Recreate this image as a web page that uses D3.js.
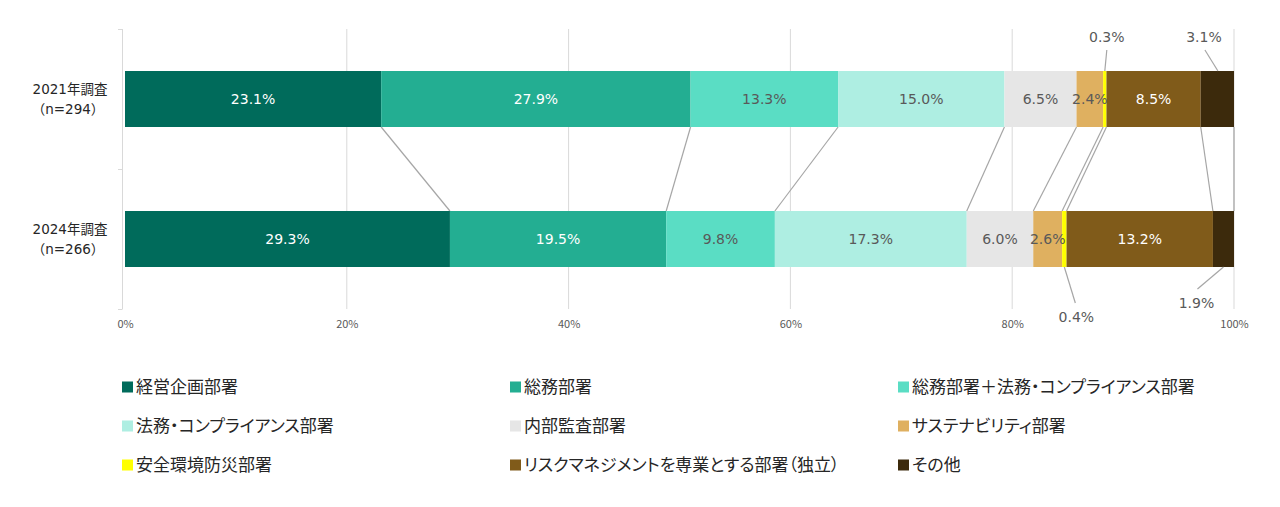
<!DOCTYPE html>
<html><head><meta charset="utf-8">
<script src="https://cdn.jsdelivr.net/npm/d3@7"></script>
<style>
html,body{margin:0;padding:0;background:#fff;}
svg{display:block;font-family:"Noto Sans CJK JP","Noto Sans",sans-serif;}
.num{font-family:"DejaVu Sans","Noto Sans CJK JP",sans-serif;}
.leg{font-feature-settings:"palt";}
</style></head>
<body>
<svg id="chart" width="1280" height="507"></svg>
<script>
const categories = ["2021年調査", "2024年調査"];
const sampleSizes = ["（n=294）", "（n=266）"];
const seriesNames = ["経営企画部署","総務部署","総務部署＋法務・コンプライアンス部署","法務・コンプライアンス部署","内部監査部署","サステナビリティ部署","安全環境防災部署","リスクマネジメントを専業とする部署（独立）","その他"];
const values2021 = [23.1, 27.9, 13.3, 15.0, 6.5, 2.4, 0.3, 8.5, 3.1];
const values2024 = [29.3, 19.5, 9.8, 17.3, 6.0, 2.6, 0.4, 13.2, 1.9];
const colors = ["#006B5B","#23AE92","#5ADDC4","#AEEEE2","#E6E6E6","#DFB060","#FFFF00","#805B1A","#3C2A0C"];
const labelColors = ["#fff","#fff","#595959","#595959","#595959","#595959","#595959","#fff","#595959"];
const tickValues = [0, 20, 40, 60, 80, 100];
// labels drawn outside with leader lines: [yearIndex, seriesIndex, side]
const calloutSeries = [[0,6,"top"],[0,8,"top"],[1,6,"bottom"],[1,8,"bottom"]];

const svg = d3.select("#chart");
const x = d3.scaleLinear().domain([0,100]).range([125,1234]).clamp(true);
const y = d3.scaleBand().domain(categories).range([29,309]).paddingInner(0.6).paddingOuter(0.3);
const allValues = [values2021, values2024];

// gridlines
svg.append("g").selectAll("line").data(tickValues.slice(1)).join("line")
  .attr("x1", d=>x(d)).attr("x2", d=>x(d)).attr("y1", 29).attr("y2", 309)
  .attr("stroke", "#D9D9D9").attr("stroke-width", 1);

// y axis line with ticks
const yAxisG = svg.append("g");
yAxisG.append("line").attr("x1",122.5).attr("x2",122.5).attr("y1",29).attr("y2",309).attr("stroke","#D9D9D9");
[29,169,309].forEach(t=>yAxisG.append("line").attr("x1",118).attr("x2",122.5).attr("y1",t+0.5).attr("y2",t+0.5).attr("stroke","#D9D9D9"));

// x axis labels
const xAxis = d3.axisBottom(x).tickValues(tickValues).tickFormat(d=>d+"%").tickSize(0).tickPadding(0);
const xg = svg.append("g").attr("transform","translate(0,320)").call(xAxis);
xg.select(".domain").remove();
xg.selectAll("text").attr("fill","#595959").attr("font-size","11px").attr("dy","0.71em")
  .attr("font-family","'Noto Sans CJK JP',sans-serif");

// stacked data
const stacks = allValues.map(vals=>{
  let c=0; return vals.map((v,i)=>{const s=c; c+=v; return {i, v, s, e:c};});
});

// connector lines between bars
const b0 = y(categories[0]) + y.bandwidth();
const t1 = y(categories[1]);
svg.append("g").selectAll("line").data(stacks[0].map((d,i)=>({a:d.e, b:stacks[1][i].e})))
  .join("line")
  .attr("x1", d=>x(d.a)).attr("y1", b0).attr("x2", d=>x(d.b)).attr("y2", t1)
  .attr("stroke","#A6A6A6").attr("stroke-width",1.2);

// bars
categories.forEach((cat,ci)=>{
  const g = svg.append("g");
  g.selectAll("rect").data(stacks[ci]).join("rect")
    .attr("x", d=>x(d.s)).attr("width", d=>Math.max(0, x(d.e)-x(d.s)))
    .attr("y", y(cat)).attr("height", y.bandwidth())
    .attr("fill", (d)=>colors[d.i]);
  const inside = stacks[ci].filter(d=>!calloutSeries.some(c=>c[0]===ci && c[1]===d.i));
  g.selectAll("text").data(inside).join("text").attr("class","num")
    .attr("x", d=>x((d.s+d.e)/2)).attr("y", y(cat)+y.bandwidth()/2)
    .attr("dy","0.36em").attr("text-anchor","middle")
    .attr("font-size","14px").attr("fill", d=>labelColors[d.i])
    .text(d=>d.v.toFixed(1)+"%");
});

// callouts
calloutSeries.forEach(([ci,si,side])=>{
  const d = stacks[ci][si];
  const cx = x((d.s+d.e)/2);
  const barTop = y(categories[ci]), barBot = barTop + y.bandwidth();
  let lx, ly, ax, ay, ex, ey;
  if (side==="top") {
    lx = si===6 ? cx+2 : cx-14; ly = 37;
    ax = si===6 ? lx : lx+1; ay = 50;
    ex = cx; ey = barTop;
  } else {
    lx = si===6 ? cx+12 : cx-27; ly = si===6 ? 317 : 303;
    ax = si===6 ? lx-1 : lx+1; ay = ly-14;
    ex = cx; ey = barBot;
  }
  svg.append("line").attr("x1",ax).attr("y1",ay).attr("x2",ex).attr("y2",ey)
    .attr("stroke","#A6A6A6").attr("stroke-width",1.2);
  svg.append("text").attr("class","num").attr("x",lx).attr("y",ly).attr("dy","0.36em").attr("text-anchor","middle")
    .attr("font-size","14px").attr("fill","#595959").text(d.v.toFixed(1)+"%");
});

// category labels
categories.forEach((cat,ci)=>{
  const cy = y(cat)+y.bandwidth()/2;
  const t = svg.append("text").attr("class","num").attr("text-anchor","middle").attr("font-size","13.5px").attr("fill","#262626");
  t.append("tspan").attr("x",70).attr("y",cy-10).attr("dy","0.35em").text(cat);
  t.append("tspan").attr("x",68).attr("y",cy+10).attr("dy","0.35em").text(sampleSizes[ci]);
});

// legend
const legCols = [122, 510, 898], legRows = [387, 426, 465];
const leg = svg.append("g").selectAll("g").data(seriesNames).join("g")
  .attr("transform",(d,i)=>`translate(${legCols[i%3]},${legRows[Math.floor(i/3)]})`);
leg.append("rect").attr("x",0).attr("y",-5.5).attr("width",11).attr("height",11).attr("fill",(d,i)=>colors[i]);
leg.append("text").attr("class","leg").attr("x",14).attr("y",0).attr("dy","0.36em").attr("font-size","17px").attr("fill","#262626").text(d=>d);
</script>
</body></html>
